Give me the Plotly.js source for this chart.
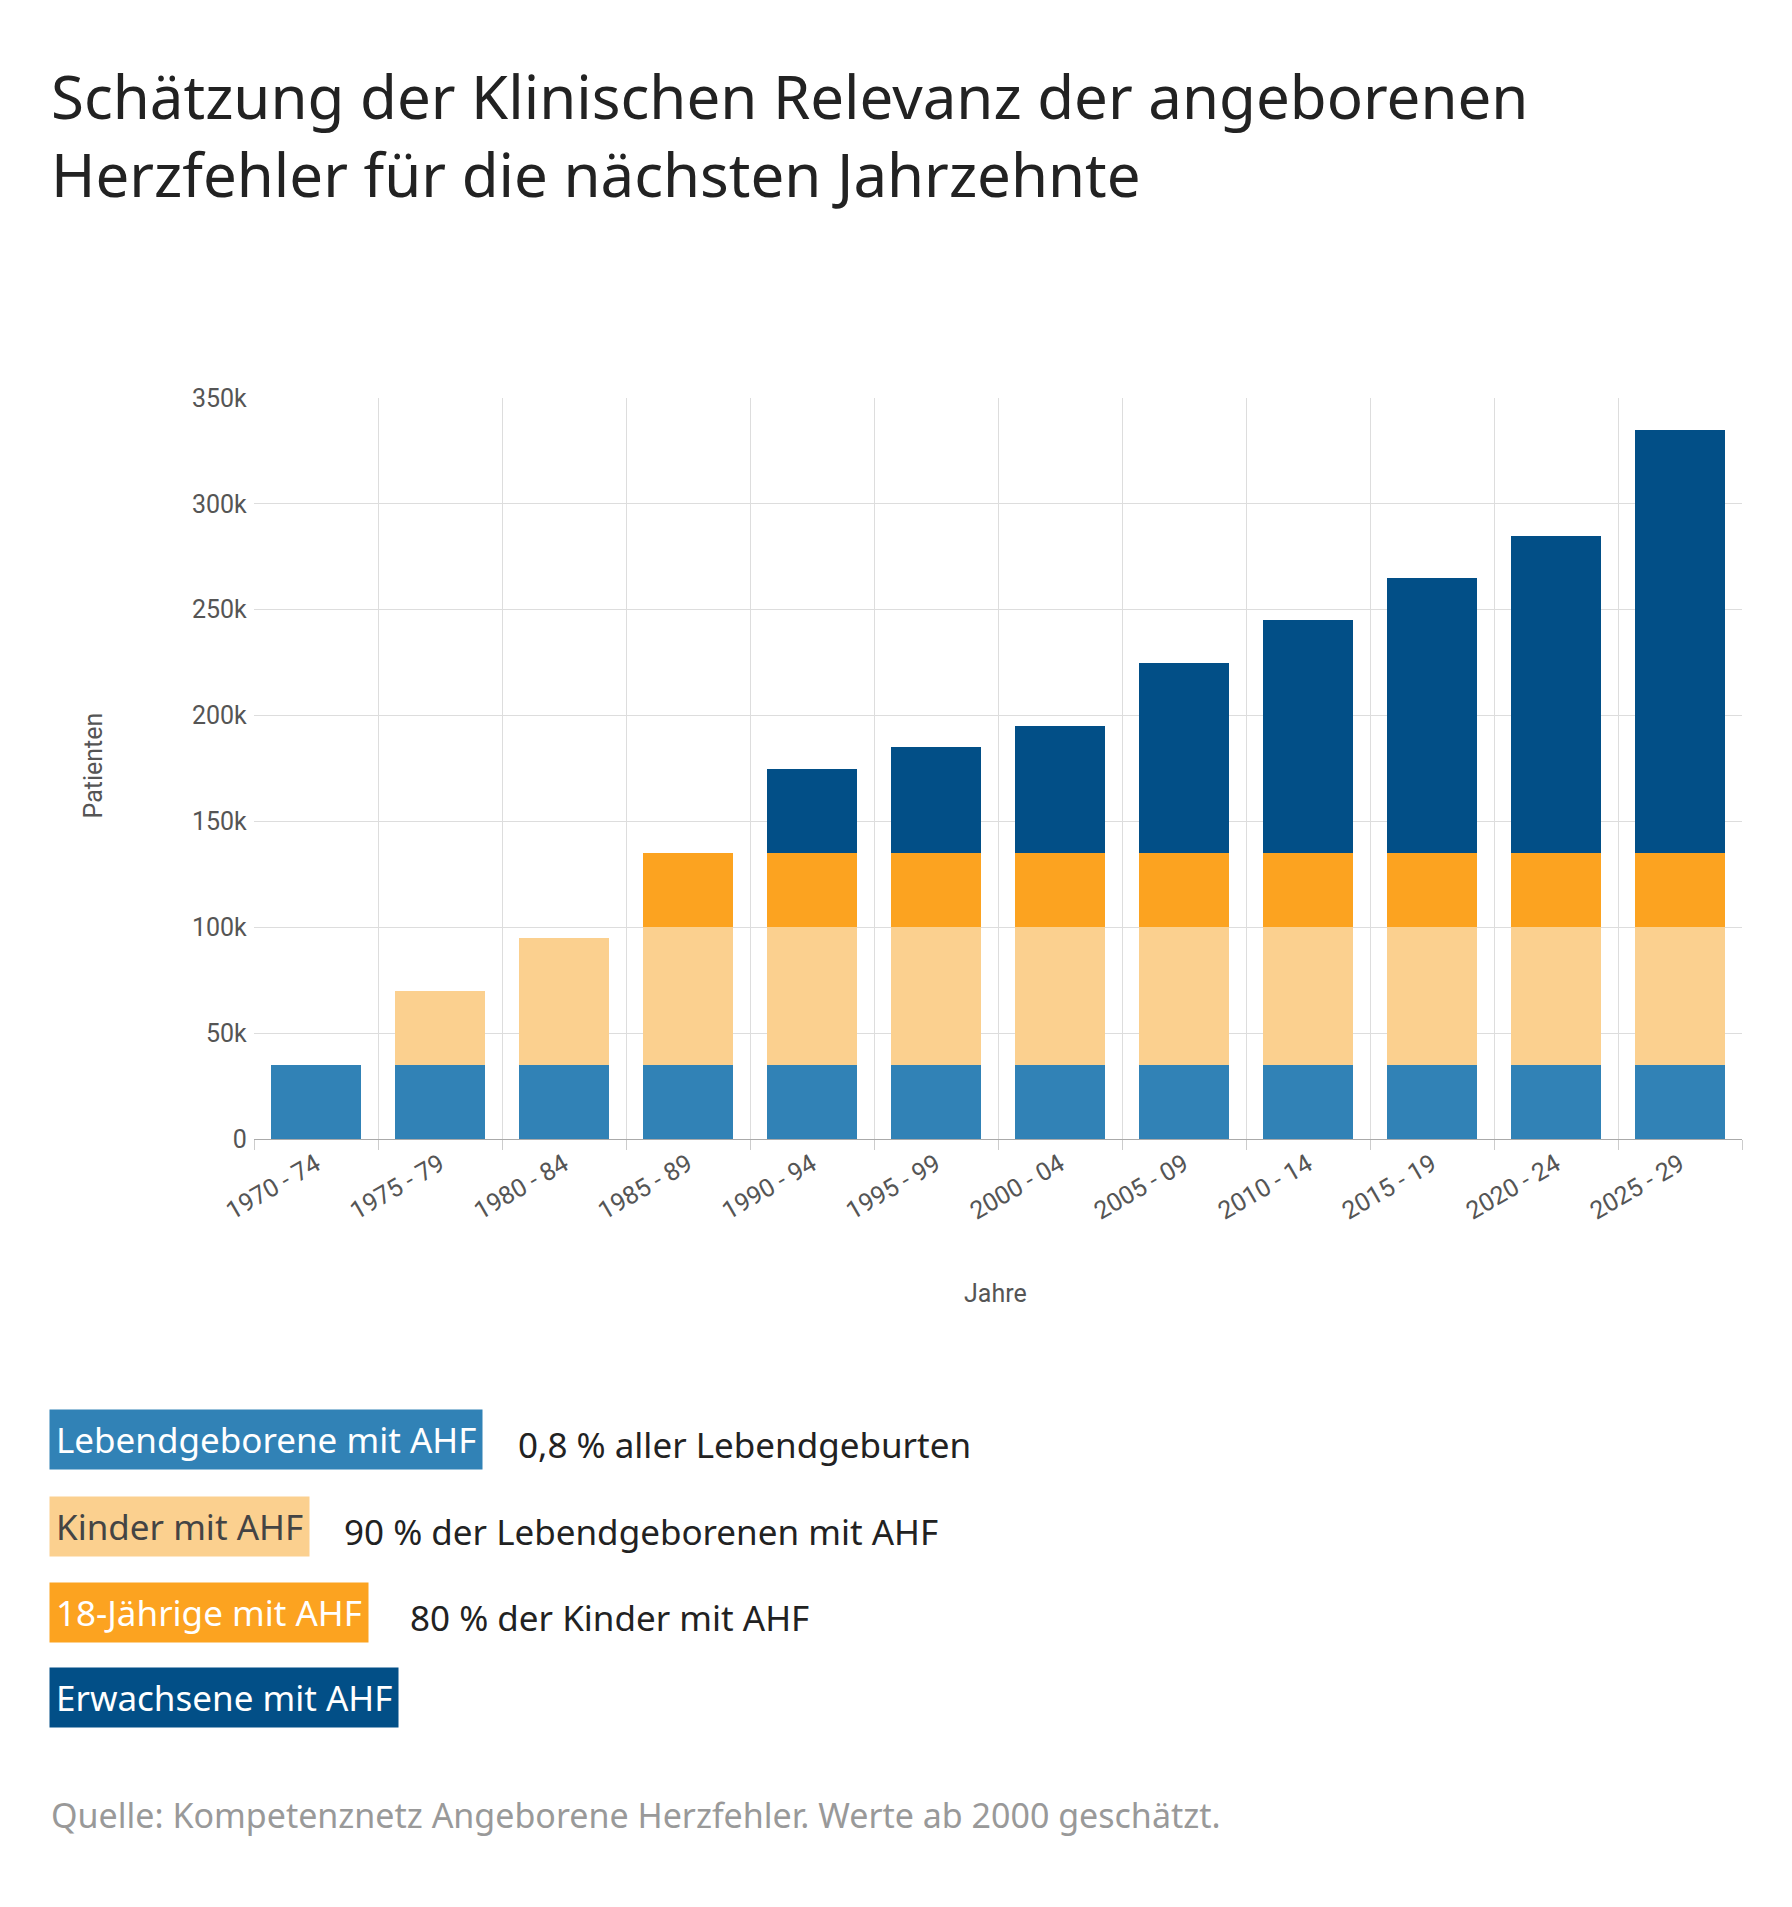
<!DOCTYPE html>
<html>
<head>
<meta charset="utf-8">
<script src="https://cdn.plot.ly/plotly-3.0.1.min.js"></script>
<style>body{margin:0;background:#fff}#chart{width:1792px;height:1907px}</style>
</head>
<body>
<div id="chart"></div>
<script>
const periods = ['1970 - 74','1975 - 79','1980 - 84','1985 - 89','1990 - 94','1995 - 99','2000 - 04','2005 - 09','2010 - 14','2015 - 19','2020 - 24','2025 - 29']
const lebend = [35000,35000,35000,35000,35000,35000,35000,35000,35000,35000,35000,35000]
const kinder = [0,35000,60000,65000,65000,65000,65000,65000,65000,65000,65000,65000]
const jaehrige = [0,0,0,35000,35000,35000,35000,35000,35000,35000,35000,35000]
const erwachsene = [0,0,0,0,40000,50000,60000,90000,110000,130000,150000,200000]

const colors = ['#3182b6','#fbd08f','#fca320','#024f87']
const names = ['Lebendgeborene mit AHF','Kinder mit AHF','18-Jährige mit AHF','Erwachsene mit AHF']
const notes = ['0,8 % aller Lebendgeburten','90 % der Lebendgeborenen mit AHF','80 % der Kinder mit AHF','']

// plot area in pixels
const L = 254, R = 1742, T = 398, B = 1139
const px = x => (x - L) / (R - L)
const py = y => (B - y) / (B - T)

const data = [lebend, kinder, jaehrige, erwachsene].map((vals, i) => ({
  type: 'bar', x: periods, y: vals, name: names[i],
  marker: {color: colors[i]}, hoverinfo: 'y+name'
}))

const font = '"Noto Sans", sans-serif'
const annotations = [
  {text: 'Schätzung der Klinischen Relevanz der angeborenen<br>Herzfehler für die nächsten Jahrzehnte',
   x: px(49), y: py(135), xanchor: 'left', yanchor: 'middle', align: 'left',
   font: {family: font, size: 60, color: '#222'}},
  {text: 'Patienten', x: px(76), y: py(766), textangle: -90,
   font: {family: 'Roboto, Arial', size: 25, color: '#555'}},
  {text: 'Jahre', x: px(995), y: py(1310),
   font: {family: 'Roboto, Arial', size: 25, color: '#555'}},
  {text: 'Quelle: Kompetenznetz Angeborene Herzfehler. Werte ab 2000 geschätzt.',
   x: px(49), y: py(1840), xanchor: 'left',
   font: {family: font, size: 34, color: '#999'}}
]
const rowY = [1470, 1557, 1643, 1728]
const noteX = [516, 342, 408, 0]
names.forEach((n, i) => {
  annotations.push({text: n, x: px(49), y: py(rowY[i]), xanchor: 'left',
    bgcolor: colors[i], borderpad: 6,
    font: {family: font, size: 35, color: i == 1 ? '#444' : '#fff'}})
  if (notes[i]) annotations.push({text: notes[i], x: px(noteX[i]), y: py(rowY[i]), xanchor: 'left',
    font: {family: font, size: 35, color: '#222'}})
})
annotations.forEach(a => { a.xref = 'paper'; a.yref = 'paper'; a.showarrow = false })

const layout = {
  width: 1792, height: 1907,
  margin: {l: L, r: 1792 - R, t: T, b: 1907 - B},
  barmode: 'stack', bargap: 0.28, showlegend: false,
  paper_bgcolor: '#fff', plot_bgcolor: '#fff',
  xaxis: {type: 'category', tickson: 'boundaries', showgrid: true, gridcolor: '#ddd',
    ticks: 'outside', ticklen: 10, tickcolor: '#ccc', tickangle: -30,
    showline: true, linecolor: '#aaa',
    tickfont: {family: 'Roboto, Arial', size: 25, color: '#555'}},
  yaxis: {range: [0, 350000], dtick: 50000, gridcolor: '#ddd', zeroline: false,
    tickfont: {family: 'Roboto, Arial', size: 25, color: '#555'}, ticksuffix: ' '},
  annotations
}

Plotly.newPlot('chart', data, layout, {displayModeBar: false})
</script>
</body>
</html>
